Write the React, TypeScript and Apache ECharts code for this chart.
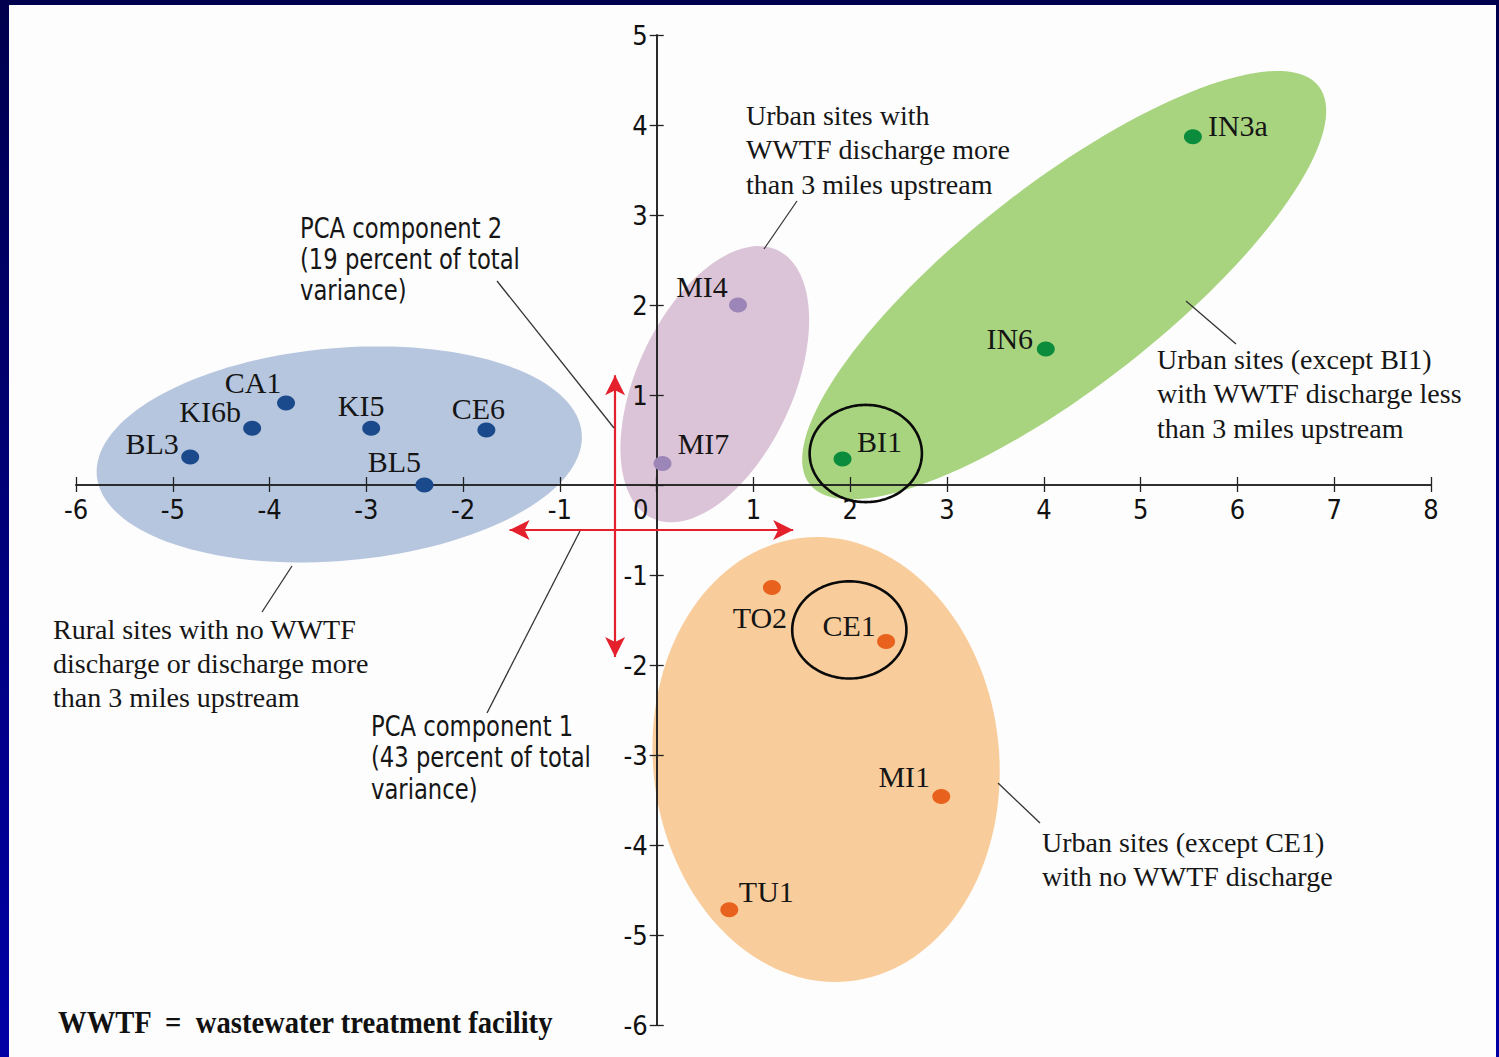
import React, { useEffect, useRef } from "react";
import * as echarts from "echarts";

// Site scores on the first two principal components
const siteNames = ["BL3", "KI6b", "CA1", "KI5", "CE6", "BL5", "MI4", "MI7", "BI1", "IN6", "IN3a", "TO2", "CE1", "MI1", "TU1"];
const pc1 = [-4.82, -4.18, -3.83, -2.95, -1.76, -2.4, 0.84, 0.06, 1.92, 4.02, 5.54, 1.19, 2.37, 2.94, 0.75];
const pc2 = [0.31, 0.63, 0.91, 0.63, 0.61, 0.0, 2.0, 0.24, 0.29, 1.51, 3.87, -1.14, -1.74, -3.46, -4.72];
// 0 rural, 1 urban far WWTF, 2 urban near WWTF, 3 urban no WWTF
const siteGroup = [0, 0, 0, 0, 0, 0, 1, 1, 2, 2, 2, 3, 3, 3, 3];

// Group envelopes: centre plus two conjugate half-axes, in PCA units
const groupCenterX = [-3.28, 0.6, 4.21, 1.75];
const groupCenterY = [0.34, 1.12, 2.22, -3.05];
const groupAxisA = [[2.505, 0.236], [0.646, 1.49], [2.63, 2.21], [-0.241, 2.464]];
const groupAxisB = [[0.096, -1.177], [0.73, -0.367], [0.643, -0.884], [1.778, 0.201]];

// Sites singled out as exceptions (BI1, CE1)
const ringCenters = [[2.16, 0.35], [1.99, -1.61]];
const ringRadii = [[0.58, 0.54], [0.59, 0.54]];

// Component direction arrows
const arrowH = [[-1.52, -0.5], [1.41, -0.5]];
const arrowV = [[-0.43, 1.22], [-0.43, -1.91]];

const xRange = { min: -6, max: 8 };
const yRange = { min: -6, max: 5 };

// Layout and styling
const W = 1499;
const H = 1057;
const GRID = { left: 76, right: 68, top: 35, bottom: 32 };
const groupFill = ["#b6c6de", "#dcc4d8", "#a8d47f", "#f9cd9b"];
const groupDot = ["#1b4a8c", "#9c86b8", "#0b8c3c", "#e8621e"];
const labelOffset: Record<string, [number, number]> = {
  BL3: [-38, -14], KI6b: [-42, -17], CA1: [-33, -21], KI5: [-10, -23], CE6: [-8, -22],
  BL5: [-30, -24], MI4: [-36, -19], MI7: [41, -20], BI1: [37, -17], IN6: [-36, -11],
  IN3a: [45, -11], TO2: [-12, 30], CE1: [-37, -16], MI1: [-37, -20], TU1: [37, -18],
};

const SERIF = '"Liberation Serif", "Times New Roman", serif';
const NARROW = '"Liberation Sans Narrow", "Arial Narrow", "DejaVu Sans Condensed", sans-serif';
const RED = "#e3202b";
const AXIS = "#222";
const TICK_FONT = 27;

function ellipsePoints(api: any, c: number[], u: number[], v: number[]) {
  const pts: number[][] = [];
  const n = 144;
  for (let i = 0; i < n; i++) {
    const t = (i / n) * Math.PI * 2;
    pts.push(api.coord([c[0] + Math.cos(t) * u[0] + Math.sin(t) * v[0], c[1] + Math.cos(t) * u[1] + Math.sin(t) * v[1]]));
  }
  return pts;
}

export default function App() {
  const ref = useRef<HTMLDivElement>(null);

  useEffect(() => {
    if (!ref.current) return;
    const chart = echarts.init(ref.current, undefined, { renderer: "svg" });

    // Axes cross at the origin: shift each axis in from the grid edge to zero
    const gridW = W - GRID.left - GRID.right;
    const gridH = H - GRID.top - GRID.bottom;
    const zeroFromLeft = ((0 - xRange.min) / (xRange.max - xRange.min)) * gridW;
    const zeroFromBottom = ((0 - yRange.min) / (yRange.max - yRange.min)) * gridH;

    const scatterSeries = [0, 1, 2, 3].map((g) => ({
      type: "scatter",
      z: 6,
      symbol: "circle",
      symbolSize: [18, 15],
      itemStyle: { color: groupDot[g], opacity: 1 },
      label: {
        show: true,
        position: "inside",
        formatter: (p: any) => p.data.name,
        fontFamily: SERIF,
        fontSize: 30,
        color: "#151515",
      },
      data: siteNames
        .map((n, i) => ({ n, i }))
        .filter((d) => siteGroup[d.i] === g)
        .map((d) => ({
          name: d.n,
          value: [pc1[d.i], pc2[d.i]],
          label: { offset: labelOffset[d.n] },
        })),
    }));

    const line = (x1: number, y1: number, x2: number, y2: number) => ({
      type: "line",
      shape: { x1, y1, x2, y2 },
      style: { stroke: "#333", lineWidth: 1.3 },
      z: 20,
    });
    const note = (x: number, top: number, text: string, lh: number, font: string, size: number, scaleX = 1) => ({
      type: "text",
      x,
      y: top,
      z: 20,
      scaleX,
      style: {
        text,
        fontFamily: font,
        fontSize: size,
        lineHeight: lh,
        fill: "#161616",
        align: "left",
        verticalAlign: "top",
      },
    });

    const baseAxis = {
      type: "value",
      interval: 1,
      z: 4,
      splitLine: { show: false },
    };
    const axisLine = { onZero: false, lineStyle: { color: AXIS, width: 1.6 } };
    const tick = (len: number) => ({ show: true, inside: false, length: len, lineStyle: { color: AXIS, width: 1.3 } });

    const option: any = {
      animation: false,
      backgroundColor: {
        type: "linear", x: 0, y: 0, x2: 0, y2: 1,
        colorStops: [{ offset: 0, color: "#00004e" }, { offset: 1, color: "#0000a6" }],
      },
      grid: { ...GRID, containLabel: false },
      xAxis: [
        {
          ...baseAxis, position: "bottom", offset: -zeroFromBottom, min: xRange.min, max: xRange.max,
          axisLine, axisTick: tick(7),
          axisLabel: {
            margin: 11, fontFamily: NARROW, fontSize: TICK_FONT, color: "#111",
            formatter: (v: number) => (v === 0 ? "{z|0}" : String(v)),
            rich: { z: { padding: [0, 32, 0, 0], fontFamily: NARROW, fontSize: TICK_FONT, color: "#111" } },
          },
        },
        {
          ...baseAxis, position: "top", offset: -(gridH - zeroFromBottom), min: xRange.min, max: xRange.max,
          axisLine, axisTick: tick(8), axisLabel: { show: false },
        },
      ],
      yAxis: [
        {
          ...baseAxis, position: "left", offset: -zeroFromLeft, min: yRange.min, max: yRange.max,
          axisLine, axisTick: tick(7),
          axisLabel: {
            margin: 9, fontFamily: NARROW, fontSize: TICK_FONT, color: "#111",
            formatter: (v: number) => (v === 0 ? "" : String(v)),
          },
        },
        {
          ...baseAxis, position: "right", offset: -(gridW - zeroFromLeft), min: yRange.min, max: yRange.max,
          axisLine, axisTick: tick(7), axisLabel: { show: false },
        },
      ],
      graphic: [
        { type: "rect", z: -100, shape: { x: 9, y: 5, width: 1487, height: 1052 }, style: { fill: "#fdfdfd" } },
        note(300, 212.5, "PCA component 2\n(19 percent of total\nvariance)", 31, NARROW, 29, 0.87),
        note(371, 710, "PCA component 1\n(43 percent of total\nvariance)", 31.5, NARROW, 29, 0.87),
        note(746, 98, "Urban sites with\nWWTF discharge more\nthan 3 miles upstream", 34.5, SERIF, 28),
        note(1157, 342, "Urban sites (except BI1)\nwith WWTF discharge less\nthan 3 miles upstream", 34.5, SERIF, 28),
        note(53, 612, "Rural sites with no WWTF\ndischarge or discharge more\nthan 3 miles upstream", 34, SERIF, 28),
        note(1042, 825, "Urban sites (except CE1)\nwith no WWTF discharge", 34, SERIF, 28),
        {
          type: "text", x: 58, y: 1022, z: 20, scaleX: 0.895,
          style: {
            text: "WWTF  =  wastewater treatment facility",
            fontFamily: SERIF, fontWeight: "bold", fontSize: 32, fill: "#111",
            align: "left", verticalAlign: "middle",
          },
        },
        line(497, 281, 614, 428),
        line(487, 713, 580, 531),
        line(262, 612, 292, 566),
        line(797, 201, 764, 249),
        line(1186, 301, 1236, 344),
        line(998, 783, 1040, 823),
      ],
      series: [
        {
          type: "custom",
          z: 1,
          clip: false,
          silent: true,
          xAxisIndex: 0,
          yAxisIndex: 0,
          data: groupCenterX.map((x, i) => [x, groupCenterY[i]]),
          renderItem: (params: any, api: any) => {
            const g = params.dataIndex;
            return {
              type: "polygon",
              shape: { points: ellipsePoints(api, [groupCenterX[g], groupCenterY[g]], groupAxisA[g], groupAxisB[g]) },
              style: { fill: groupFill[g] },
            };
          },
        },
        {
          type: "custom",
          z: 7,
          clip: false,
          silent: true,
          xAxisIndex: 0,
          yAxisIndex: 0,
          data: ringCenters,
          renderItem: (params: any, api: any) => {
            const i = params.dataIndex;
            const c = ringCenters[i];
            const r = ringRadii[i];
            return {
              type: "polygon",
              shape: { points: ellipsePoints(api, c, [r[0], 0], [0, r[1]]) },
              style: { fill: "none", stroke: "#0a0a0a", lineWidth: 2.6 },
            };
          },
        },
        {
          type: "line",
          z: 8,
          data: [],
          xAxisIndex: 0,
          yAxisIndex: 0,
          markLine: {
            silent: true,
            symbol: ["arrow", "arrow"],
            symbolSize: [15, 20],
            label: { show: false },
            lineStyle: { color: RED, width: 2.2, type: "solid" },
            data: [
              [{ coord: arrowH[0] }, { coord: arrowH[1] }],
              [{ coord: arrowV[0] }, { coord: arrowV[1] }],
            ],
          },
        },
        ...scatterSeries,
      ],
    };

    chart.setOption(option);
    return () => chart.dispose();
  }, []);

  return <div ref={ref} style={{ position: "absolute", left: 0, top: 0, width: W, height: H }} />;
}
